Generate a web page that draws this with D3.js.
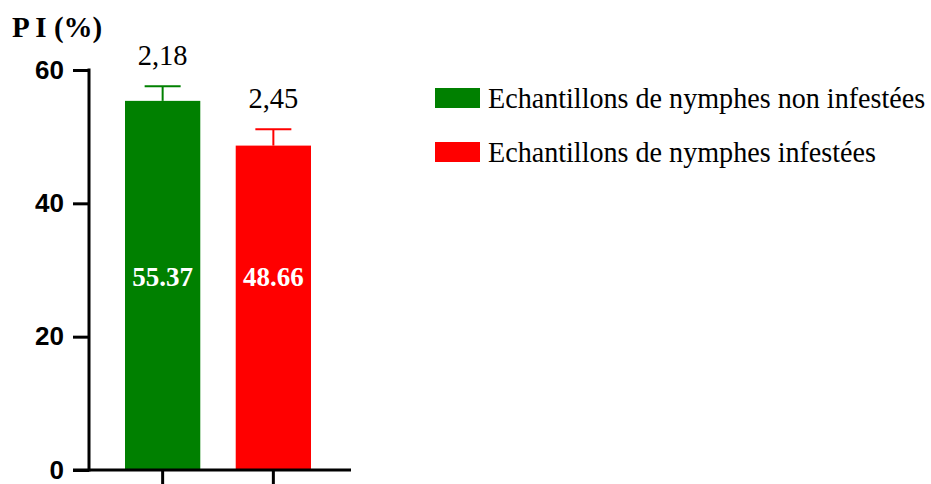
<!DOCTYPE html>
<html>
<meta charset="utf-8">
<head>
<style>
body { margin: 0; background: #fff; }
.tick text { font: bold 26px "Liberation Sans", Arial, sans-serif; fill: #000; }
.serif { font-family: "Liberation Serif", "Times New Roman", serif; }
</style>
<script src="https://d3js.org/d3.v7.min.js"></script>
</head>
<body>
  <svg width="931" height="484"></svg>
  <script>
  var groups = ["Echantillons de nymphes non infestées", "Echantillons de nymphes infestées"];
  var means = [55.37, 48.66];
  var errors = [2.18, 2.45];
  var meanLabels = ["55.37", "48.66"];
  var errorLabels = ["2,18", "2,45"];
  var colors = ["#008000", "#ff0000"];
  var yTicks = [0, 20, 40, 60];

  var svg = d3.select("svg");

  var y = d3.scaleLinear().domain([0, 60]).range([470, 70]);
  var x = d3.scaleBand().domain(groups).range([125, 311]).paddingInner(0.32).paddingOuter(0);

  function cx(d) { return x(d) + x.bandwidth() / 2; }

  // bars
  svg.selectAll(".bar")
    .data(groups)
    .enter().append("rect")
      .attr("x", function(d) { return x(d); })
      .attr("y", function(d, i) { return y(means[i]); })
      .attr("width", x.bandwidth())
      .attr("height", function(d, i) { return y(0) - y(means[i]); })
      .attr("fill", function(d, i) { return colors[i]; });

  // error bars
  var eb = svg.selectAll(".err")
    .data(groups)
    .enter().append("g");
  eb.append("line")
      .attr("x1", cx)
      .attr("x2", cx)
      .attr("y1", function(d, i) { return y(means[i]); })
      .attr("y2", function(d, i) { return y(means[i] + errors[i]); })
      .attr("stroke", function(d, i) { return colors[i]; })
      .attr("stroke-width", 2);
  eb.append("line")
      .attr("x1", function(d) { return cx(d) - 18; })
      .attr("x2", function(d) { return cx(d) + 18; })
      .attr("y1", function(d, i) { return y(means[i] + errors[i]); })
      .attr("y2", function(d, i) { return y(means[i] + errors[i]); })
      .attr("stroke", function(d, i) { return colors[i]; })
      .attr("stroke-width", 2);
  eb.append("text")
      .attr("class", "serif")
      .attr("transform", function(d, i) {
        return "translate(" + cx(d) + "," + (y(means[i] + errors[i]) - 21) + ") scale(0.95,1)";
      })
      .attr("text-anchor", "middle")
      .attr("font-size", "30px")
      .attr("fill", "#000")
      .text(function(d, i) { return errorLabels[i]; });

  // value labels inside bars
  svg.selectAll(".val")
    .data(groups)
    .enter().append("text")
      .attr("class", "serif")
      .attr("x", cx)
      .attr("y", 286)
      .attr("text-anchor", "middle")
      .attr("font-size", "27px")
      .attr("font-weight", "bold")
      .attr("fill", "#fff")
      .text(function(d, i) { return meanLabels[i]; });

  // y axis
  var yAxis = svg.append("g")
      .attr("transform", "translate(89,0)")
      .call(d3.axisLeft(y).tickValues(yTicks).tickSize(16).tickPadding(9).tickSizeOuter(0));
  yAxis.selectAll("line, path").attr("stroke", "#000").attr("stroke-width", 3);
  yAxis.select(".domain").attr("d", "M0,68.5V471.5");

  // x axis
  var xAxis = svg.append("g")
      .attr("transform", "translate(0,470)")
      .call(d3.axisBottom(x).tickSize(16).tickSizeOuter(0).tickFormat(""));
  xAxis.selectAll("line, path").attr("stroke", "#000").attr("stroke-width", 3);
  xAxis.select(".domain").attr("d", "M73,0H351");

  // title
  svg.append("text")
      .attr("class", "serif")
      .attr("x", 12)
      .attr("y", 37)
      .attr("font-size", "29px")
      .attr("font-weight", "bold")
      .attr("fill", "#000")
      .text("P I (%)");

  // legend
  var legend = svg.selectAll(".legend")
    .data(groups)
    .enter().append("g")
      .attr("transform", function(d, i) { return "translate(435," + (88 + i * 54) + ")"; });
  legend.append("rect")
      .attr("width", 45)
      .attr("height", 20)
      .attr("fill", function(d, i) { return colors[i]; });
  legend.append("text")
      .attr("class", "serif")
      .attr("transform", "translate(53,19.5) scale(0.97,1)")
      .attr("font-size", "29px")
      .attr("fill", "#000")
      .text(function(d) { return d; });
  </script>
</body>
</html>
